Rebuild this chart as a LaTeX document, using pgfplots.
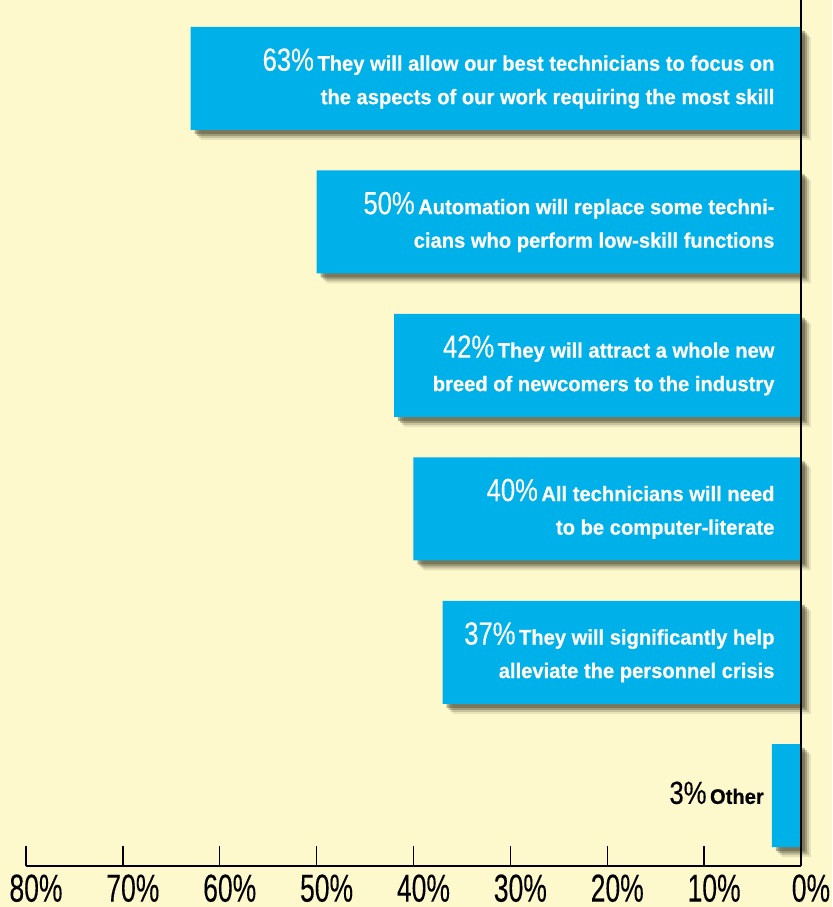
\documentclass[border=0pt]{standalone}
\usepackage{pgfplots}
\pgfplotsset{compat=1.18}
\usetikzlibrary{shadows}
\usepackage{fontspec}
\setmainfont{Liberation Sans}
\newfontfamily\lab[FakeStretch=0.96,FakeBold=0.6]{Liberation Sans}
\newfontfamily\pct[FakeStretch=0.8,FakeBold=0.3]{Liberation Sans}
\newfontfamily\tickf[FakeStretch=0.68,FakeBold=0.1]{Liberation Sans}
\definecolor{bg}{RGB}{254,249,204}
\definecolor{barc}{RGB}{0,176,232}
\definecolor{shc}{RGB}{70,66,45}
\pgfplotstableread{
val pos
63 0
50 1
42 2
40 3
37 4
3 5
}\data
\newcommand{\lblfont}{\lab\bfseries\fontsize{10.5}{16.75}\selectfont}
\newcommand{\pc}[1]{{\pct\mdseries\fontsize{16}{16.75}\selectfont #1}\,}
\begin{document}
\begin{tikzpicture}
\path[use as bounding box, fill=bg] (0,0) rectangle (416pt,453.5pt);
\begin{axis}[
  at={(13pt,20.5pt)}, anchor=south west,
  scale only axis, width=387.5pt, height=433pt,
  x dir=reverse, y dir=reverse,
  xmin=0, xmax=80, ymin=-0.547, ymax=5.49,
  axis x line*=bottom, hide y axis,
  axis line style={line width=1pt, black},
  xtick={0,10,...,80},
  xticklabels={0\%,10\%,20\%,30\%,40\%,50\%,60\%,70\%,80\%},
  xticklabel style={anchor=north, inner sep=0pt, yshift=-4pt, xshift=5pt, font=\tickf\fontsize{19.5}{19.5}\selectfont},
  tick align=inside, major tick length=10pt,
  every tick/.style={black, line width=0.7pt},
  clip=false,
]
\addplot[xbar, bar width=0.718, fill=barc, draw=none,
  drop shadow={shadow xshift=5pt, shadow yshift=-5pt, opacity=0.12, fill=shc},
  drop shadow={shadow xshift=4pt, shadow yshift=-4pt, opacity=0.2, fill=shc},
  drop shadow={shadow xshift=3pt, shadow yshift=-3pt, opacity=0.3, fill=shc},
  drop shadow={shadow xshift=2pt, shadow yshift=-2pt, opacity=0.4, fill=shc}]
  table[x=val, y=pos] {\data};
\draw[line width=1.2pt, black] (axis cs:0,-0.547) -- (axis cs:0,5.49);
\begin{scope}[every node/.style={anchor=east, align=right, text=white, inner sep=0pt, font=\lblfont}]
\node at (axis cs:2.7,0) {\pc{63\%}They will allow our best technicians to focus on\\the aspects of our work requiring the most skill};
\node at (axis cs:2.7,1) {\pc{50\%}Automation will replace some techni-\\cians who perform low-skill functions};
\node at (axis cs:2.7,2) {\pc{42\%}They will attract a whole new\\breed of newcomers to the industry};
\node at (axis cs:2.7,3) {\pc{40\%}All technicians will need\\to be computer-literate};
\node at (axis cs:2.7,4) {\pc{37\%}They will significantly help\\alleviate the personnel crisis};
\node[text=black] at (axis cs:3.8,4.98) {\pc{3\%}Other};
\end{scope}
\end{axis}
\end{tikzpicture}
\end{document}
